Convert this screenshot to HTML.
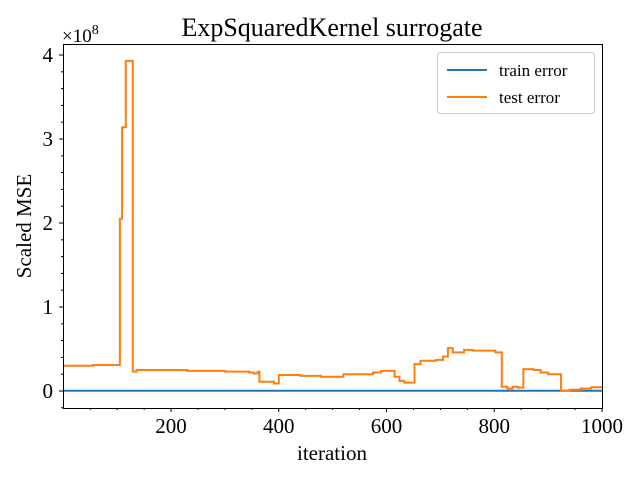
<!DOCTYPE html>
<html><head><meta charset="utf-8"><style>
body{margin:0;background:#fff;}
svg text{font-family:"Liberation Serif","DejaVu Serif",serif;fill:#000;}
</style></head><body>
<svg id="chart" width="640" height="480">
<text x="332" y="36" font-size="26" text-anchor="middle">ExpSquaredKernel surrogate</text>
<text x="62" y="42" font-size="19">×10<tspan font-size="14" dy="-8">8</tspan></text>
<text x="332" y="460" font-size="21" text-anchor="middle">iteration</text>
<text transform="translate(31,226) rotate(-90)" font-size="21" text-anchor="middle">Scaled MSE</text>
<g id="ticks"></g>
<g id="series"></g>
<rect x="63.5" y="44.5" width="539" height="364" fill="none" stroke="#000" stroke-width="1"/>
<g>
<rect x="437.5" y="52.5" width="157" height="61" rx="3" fill="#fff" stroke="#ccc"/>
<line x1="447" y1="70" x2="487" y2="70" stroke="#1f77b4" stroke-width="2"/>
<text x="499" y="76" font-size="17">train error</text>
<line x1="447" y1="97" x2="487" y2="97" stroke="#ff7f0e" stroke-width="2"/>
<text x="499" y="103" font-size="17">test error</text>
</g>
</svg>
<script>
const iters = [1,50,55,105,109,116,129,136,170,230,300,345,353,361,364,391,400,440,478,520,575,590,611,615,624,633,652,663,692,705,714,723,744,760,802,814,824,834,844,854,873,886,900,924,940,960,980,1000];
const testVals = [0.30,0.30,0.31,2.05,3.14,3.93,0.23,0.25,0.25,0.24,0.23,0.22,0.21,0.23,0.11,0.09,0.19,0.18,0.17,0.20,0.22,0.24,0.24,0.17,0.12,0.10,0.32,0.36,0.37,0.41,0.51,0.46,0.49,0.48,0.46,0.05,0.03,0.05,0.04,0.26,0.25,0.22,0.20,0.005,0.015,0.03,0.045,0.06];
const trainVals = [0.003,0.003];
const trainIters = [1,1000];
const xTicks = [200,400,600,800,1000];
const yTicks = [0,1,2,3,4];
const NS="http://www.w3.org/2000/svg";
const xS=v=>63.3+(v)*0.5387;
const yS=v=>391-v*84;
const tk=document.getElementById('ticks');
function mk(tag,attrs,parent){const e=document.createElementNS(NS,tag);for(const k in attrs)e.setAttribute(k,attrs[k]);parent.appendChild(e);return e;}
xTicks.forEach(t=>{
 const l=mk('line',{x1:xS(t),x2:xS(t),y1:408,y2:412,stroke:'#000'},tk);
 
 
 const tx=mk('text',{x:xS(t),y:433,'font-size':21,'text-anchor':'middle'},tk);tx.textContent=t;
 
 
});
for(let t=50;t<1000;t+=50){if(t%200==0)continue;
 const l=mk('line',{x1:xS(t),x2:xS(t),y1:408,y2:410,stroke:'#000'},tk);
 
 }
yTicks.forEach(t=>{
 const l=mk('line',{x1:59,x2:63,y1:yS(t),y2:yS(t),stroke:'#000'},tk);
 
 
 const tx=mk('text',{x:53,y:yS(t)+7,'font-size':21,'text-anchor':'end'},tk);tx.textContent=t;
 
 
});
for(let t=-0.2;t<4.1;t+=0.2){if(Math.abs(t-Math.round(t))<0.01)continue;
 const l=mk('line',{x1:61,x2:63,y1:yS(t),y2:yS(t),stroke:'#000'},tk);
 
 }
const sg=document.getElementById('series');
function stepPath(xs,ys){let d='';for(let i=0;i<xs.length;i++){d+=(i?'H'+xS(xs[i])+'V'+yS(ys[i]):'M'+xS(xs[i])+','+yS(ys[i]));}return d;}
const tr=mk('path',{d:stepPath(trainIters,trainVals),fill:'none',stroke:'#1f77b4','stroke-width':2},sg);


const te=mk('path',{d:stepPath(iters,testVals),fill:'none',stroke:'#ff7f0e','stroke-width':2},sg);


</script>
</body></html>
